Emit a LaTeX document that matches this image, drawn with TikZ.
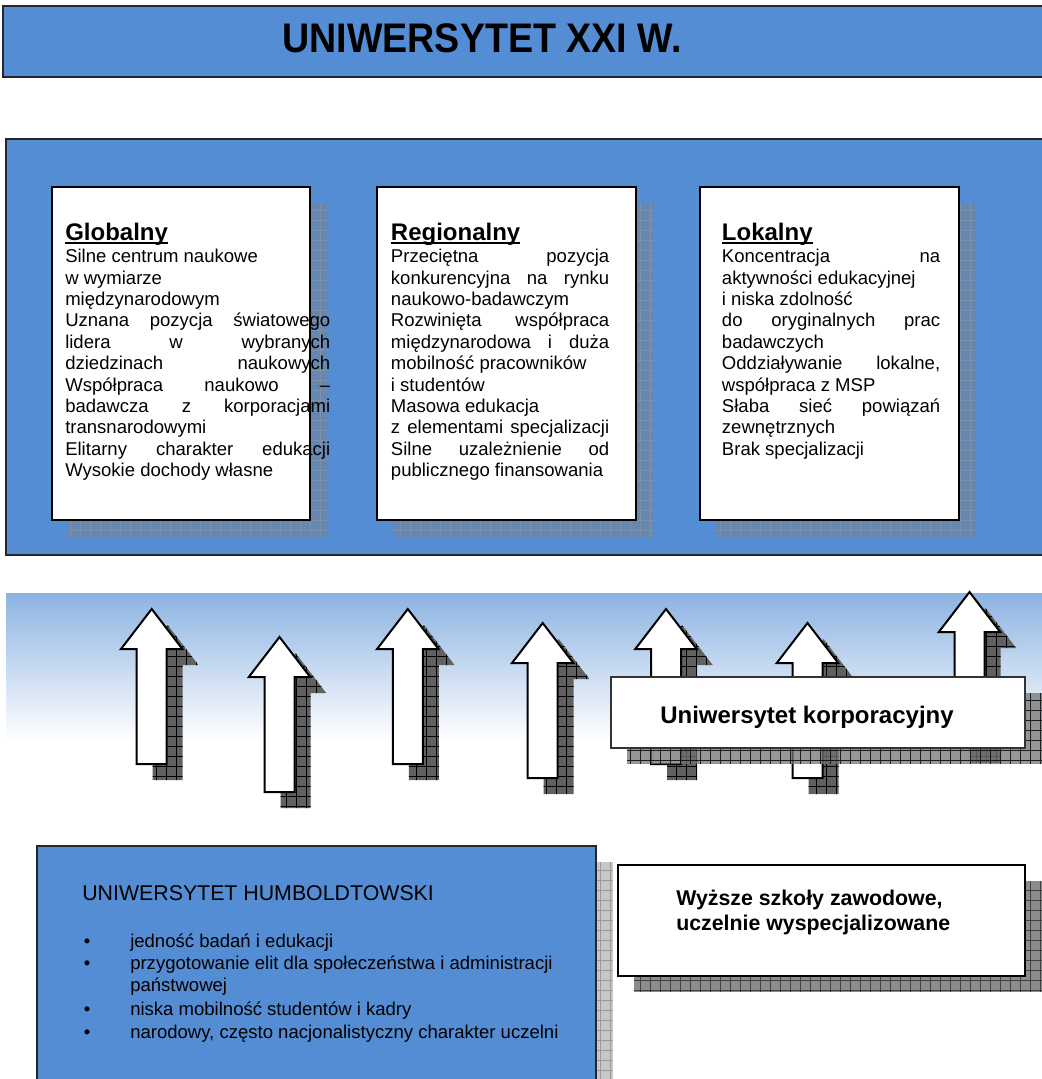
\documentclass[tikz,border=0pt]{standalone}
\usepackage{fontspec}
\setmainfont{Liberation Sans}
\usepackage{graphicx}
\usetikzlibrary{positioning}

\definecolor{panelblue}{RGB}{84,141,212}
\definecolor{bandblue}{RGB}{141,179,226}

% justified line, underlined heading, list bullet
\newcommand{\natsp}{\spaceskip=0pt\xspaceskip=0pt\relax}
\newcommand{\jl}[2][163.7pt]{\leavevmode\hbox to #1{\natsp #2}}
\newcommand{\uhead}[1]{\setbox0\hbox{#1}\rlap{\rule[-3pt]{\wd0}{1.3pt}}\box0}
\newcommand{\bul}{\leavevmode\llap{\textbullet\hspace{30pt}}}
\newcommand{\arrowpath}[2]{(#1,#2) -- ++(30.7,40) -- ++(-15.7,0) -- ++(0,115) -- ++(-30,0) -- ++(0,-115) -- ++(-15.7,0) -- cycle}
\newcommand{\shadowrect}[6]{%
  \begin{scope}
    \clip (#1,#2) rectangle (#3,#4);
    \fill[#5] (#1,#2) rectangle (#3,#4);
    \draw[#6, step=7.5pt] (#1,#2) grid (#3,#4);
  \end{scope}}
\newcommand{\uparr}[2]{%
  \begin{scope}[shift={(16,16)}]
    \clip \arrowpath{#1}{#2};
    \fill[black!62] (#1-40,#2) rectangle (#1+40,#2+160);
    \draw[black, line width=0.5pt, step=7.5pt] (#1-40,#2) grid (#1+40,#2+160);
  \end{scope}
  \draw[arrowbody] \arrowpath{#1}{#2};}

\begin{document}
\begin{tikzpicture}[x=0.75pt, y=-0.75pt,
    panel/.style={fill=panelblue, draw=black!85, line width=1.3pt},
    card/.style={fill=white, draw=black, line width=1.5pt},
    arrowbody/.style={fill=white, draw=black, line width=1.5pt},
    colhead/.style={anchor=base west, inner sep=0pt, font=\fontsize{18}{20}\selectfont\bfseries},
    plaintext/.style={anchor=base west, inner sep=0pt, text width=#1, align=left,
      execute at begin node=\natsp},
    coltext/.style={plaintext=#1, font=\fontsize{13.9}{16.05}\selectfont}]
  \useasboundingbox (0,0) rectangle (1042,1079);
  \clip (0,0) rectangle (1042,1079);

  % title bar
  \draw[panel] (3,6) rectangle (1060,77);
  \node[inner sep=0pt, font=\fontsize{31}{36}\selectfont\bfseries] (title) at (482,38)
    {\scalebox{0.91}[1]{UNIWERSYTET XXI W.}};

  % three university types
  \draw[panel] (6,139) rectangle (1060,555);
  \shadowrect{68}{203}{327}{537}{black!50, opacity=0.42}{black!35, opacity=0.35, line width=0.4pt}
  \shadowrect{393}{203}{653}{537}{black!50, opacity=0.42}{black!35, opacity=0.35, line width=0.4pt}
  \shadowrect{716}{203}{976}{537}{black!50, opacity=0.42}{black!35, opacity=0.35, line width=0.4pt}
  \draw[card] (52,187) rectangle (310,520);
  \draw[card] (377,187) rectangle (636,520);
  \draw[card] (700,187) rectangle (959,520);

  \node[colhead] (globhead) at (65,240) {\uhead{Globalny}};
  \node[coltext=198.75pt] (globtext) at (65,262.7) {Silne centrum naukowe\\
    w wymiarze\\
    międzynarodowym\\
    \jl[198.75pt]{Uznana pozycja światowego}\\
    \jl[198.75pt]{lidera w wybranych}\\
    \jl[198.75pt]{dziedzinach naukowych}\\
    \jl[198.75pt]{Współpraca naukowo –}\\
    \jl[198.75pt]{badawcza z korporacjami}\\
    transnarodowymi\\
    \jl[198.75pt]{Elitarny charakter edukacji}\\
    Wysokie dochody własne};

  \node[colhead] (regionhead) at (390.7,240) {\uhead{Regionalny}};
  \node[coltext=163.7pt] (regiontext) at (390.7,262.7) {\jl{Przeciętna pozycja}\\
    \jl{konkurencyjna na rynku}\\
    naukowo-badawczym\\
    \jl{Rozwinięta współpraca}\\
    \jl{międzynarodowa i duża}\\
    mobilność pracowników\\
    i studentów\\
    Masowa edukacja\\
    \jl{z elementami specjalizacji}\\
    \jl{Silne uzależnienie od}\\
    publicznego finansowania};

  \node[colhead] (localhead) at (721.7,240) {\uhead{Lokalny}};
  \node[coltext=163.7pt] (localtext) at (721.7,262.7) {\jl{Koncentracja na}\\
    aktywności edukacyjnej\\
    i niska zdolność\\
    \jl{do oryginalnych prac}\\
    badawczych\\
    \jl{Oddziaływanie lokalne,}\\
    współpraca z MSP\\
    \jl{Słaba sieć powiązań}\\
    zewnętrznych\\
    Brak specjalizacji};

  % arrows
  \shade[top color=bandblue, bottom color=white] (6,593) rectangle (1042,740);
  \uparr{151.7}{609}
  \uparr{279.5}{637}
  \uparr{407.8}{609}
  \uparr{542.7}{623}
  \uparr{666}{609}
  \uparr{807.5}{623}
  \uparr{969.5}{592}

  \shadowrect{627}{693}{1042}{764}{black!55, opacity=0.75}{black, opacity=0.8, line width=0.5pt}
  \draw[card, line width=1pt, draw=black!80] (611,677) rectangle (1025,748);
  \node[inner sep=0pt, anchor=base, font=\fontsize{18}{20}\selectfont\bfseries] (corporate) at (807,723)
    {Uniwersytet korporacyjny};

  % Humboldt university
  \shadowrect{53}{862}{613}{1100}{black!22}{black!40, line width=0.4pt}
  \draw[panel] (37,846) rectangle (596,1100);
  \node[inner sep=0pt, anchor=base west, font=\fontsize{16}{18}\selectfont] (humbtitle) at (82,900)
    {UNIWERSYTET HUMBOLDTOWSKI};
  \node[plaintext=340pt, font=\fontsize{13.9}{16.5}\selectfont] (humbtext) at (130,947)
    {\bul jedność badań i edukacji\\
     \bul przygotowanie elit dla społeczeństwa i administracji\\
     państwowej\\[1.5pt]
     \bul niska mobilność studentów i kadry\\[1pt]
     \bul narodowy, często nacjonalistyczny charakter uczelni};

  % vocational schools
  \shadowrect{634}{881}{1042}{992}{black!45}{black!75, line width=0.5pt}
  \draw[card] (618,865) rectangle (1025,976);
  \node[plaintext=260pt, font=\fontsize{16}{18.75}\selectfont\bfseries] (vocational) at (676,905)
    {Wyższe szkoły zawodowe,\\ uczelnie wyspecjalizowane};
\end{tikzpicture}
\end{document}
